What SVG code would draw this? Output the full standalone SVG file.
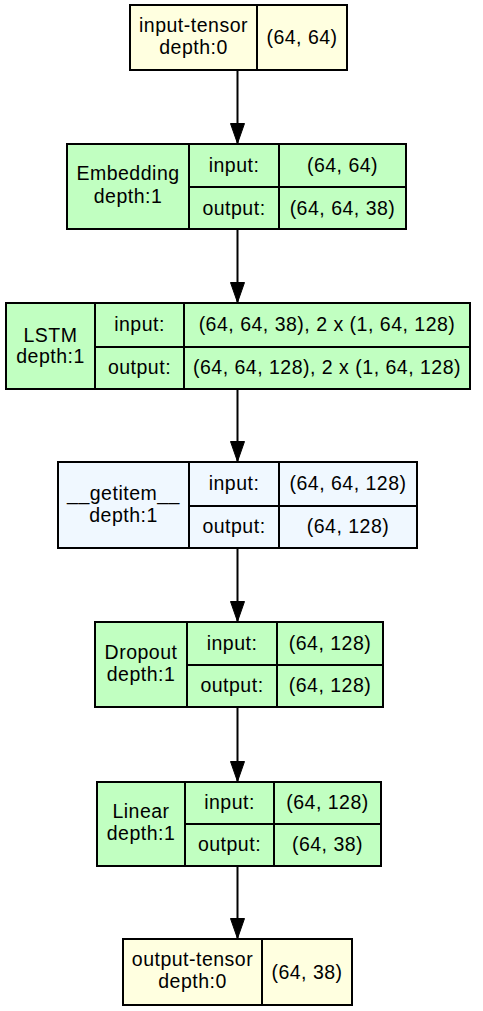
<svg xmlns="http://www.w3.org/2000/svg" width="483" height="1011" viewBox="0 0 483 1011">
<defs>
<style>
.b{stroke:#000;stroke-width:2;}
.y{fill:#ffffe0;}
.g{fill:#c1ffc1;}
.a{fill:#f0f8ff;}
.l{stroke:#000;stroke-width:2;fill:none;}
text{font-family:"Liberation Sans",Arial,Helvetica,sans-serif;font-size:19.5px;letter-spacing:0.5px;text-anchor:middle;fill:#000;}
.e{stroke:#000;stroke-width:2;fill:none;}
</style>
<marker id="ah" markerUnits="userSpaceOnUse" markerWidth="21" markerHeight="15" refX="21" refY="7.5" orient="auto" viewBox="0 0 21 15">
<path d="M0.5,0.5 L20.5,7.5 L0.5,14.5 Z" fill="#000" stroke="#000" stroke-width="1"/>
</marker>
</defs>
<rect width="483" height="1011" fill="#fff"/>
<g id="connectors">
<line class="e" x1="237.5" y1="70" x2="237.5" y2="144" marker-end="url(#ah)"/>
<line class="e" x1="237.5" y1="229" x2="237.5" y2="303" marker-end="url(#ah)"/>
<line class="e" x1="237.5" y1="389" x2="237.5" y2="462" marker-end="url(#ah)"/>
<line class="e" x1="237.5" y1="548" x2="237.5" y2="622" marker-end="url(#ah)"/>
<line class="e" x1="237.5" y1="707" x2="237.5" y2="782" marker-end="url(#ah)"/>
<line class="e" x1="237.5" y1="866" x2="237.5" y2="939" marker-end="url(#ah)"/>
</g>
<g id="input-tensor">
<rect class="b y" x="130" y="5" width="217" height="65"/>
<line class="l" x1="257" y1="5" x2="257" y2="70"/>
<text x="193.5" y="32">input-tensor</text>
<text x="193.5" y="54">depth:0</text>
<text x="302" y="44">(64, 64)</text>
</g>
<g id="embedding">
<rect class="b g" x="67" y="144" width="339" height="85"/>
<line class="l" x1="189" y1="144" x2="189" y2="229"/>
<line class="l" x1="279" y1="144" x2="279" y2="229"/>
<line class="l" x1="189" y1="187" x2="406" y2="187"/>
<text x="128" y="180">Embedding</text>
<text x="128" y="203">depth:1</text>
<text x="234" y="172">input:</text>
<text x="342.5" y="172">(64, 64)</text>
<text x="234" y="214.5">output:</text>
<text x="342.5" y="214.5">(64, 64, 38)</text>
</g>
<g id="lstm">
<rect class="b g" x="6" y="303" width="464" height="86"/>
<line class="l" x1="95" y1="303" x2="95" y2="389"/>
<line class="l" x1="184" y1="303" x2="184" y2="389"/>
<line class="l" x1="95" y1="347" x2="470" y2="347"/>
<text x="50.5" y="342">LSTM</text>
<text x="50.5" y="363">depth:1</text>
<text x="139.5" y="331">input:</text>
<text x="327" y="331">(64, 64, 38), 2 x (1, 64, 128)</text>
<text x="139.5" y="374">output:</text>
<text x="327" y="374">(64, 64, 128), 2 x (1, 64, 128)</text>
</g>
<g id="getitem">
<rect class="b a" x="58" y="462" width="359" height="86"/>
<line class="l" x1="189" y1="462" x2="189" y2="548"/>
<line class="l" x1="279" y1="462" x2="279" y2="548"/>
<line class="l" x1="189" y1="506" x2="417" y2="506"/>
<text x="123.5" y="500">__getitem__</text>
<text x="123.5" y="522">depth:1</text>
<text x="234" y="490">input:</text>
<text x="348" y="490">(64, 64, 128)</text>
<text x="234" y="533">output:</text>
<text x="348" y="533">(64, 128)</text>
</g>
<g id="dropout">
<rect class="b g" x="95" y="622" width="288" height="85"/>
<line class="l" x1="187" y1="622" x2="187" y2="707"/>
<line class="l" x1="277" y1="622" x2="277" y2="707"/>
<line class="l" x1="187" y1="665" x2="383" y2="665"/>
<text x="141" y="659">Dropout</text>
<text x="141" y="681">depth:1</text>
<text x="232" y="650">input:</text>
<text x="330" y="650">(64, 128)</text>
<text x="232" y="692">output:</text>
<text x="330" y="692">(64, 128)</text>
</g>
<g id="linear">
<rect class="b g" x="97" y="782" width="284" height="84"/>
<line class="l" x1="185" y1="782" x2="185" y2="866"/>
<line class="l" x1="274" y1="782" x2="274" y2="866"/>
<line class="l" x1="185" y1="824" x2="381" y2="824"/>
<text x="141" y="818">Linear</text>
<text x="141" y="840">depth:1</text>
<text x="229.5" y="809">input:</text>
<text x="327.5" y="809">(64, 128)</text>
<text x="229.5" y="851">output:</text>
<text x="327.5" y="851">(64, 38)</text>
</g>
<g id="output-tensor">
<rect class="b y" x="123" y="939" width="229" height="66"/>
<line class="l" x1="262" y1="939" x2="262" y2="1005"/>
<text x="192.5" y="966">output-tensor</text>
<text x="192.5" y="988">depth:0</text>
<text x="307" y="979">(64, 38)</text>
</g>
</svg>
